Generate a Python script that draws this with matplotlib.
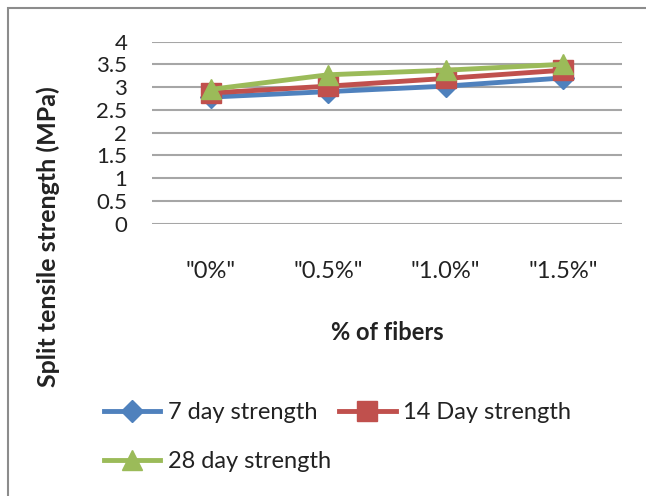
import numpy as np
import matplotlib.pyplot as plt
from matplotlib.patches import Rectangle

plt.rcParams['font.family'] = ['Lato', 'DejaVu Sans']

# data
fibers = ['"0%"', '"0.5%"', '"1.0%"', '"1.5%"']
day7 = [2.78, 2.90, 3.02, 3.20]
day14 = [2.87, 3.02, 3.19, 3.37]
day28 = [2.95, 3.27, 3.37, 3.50]

fig = plt.figure(figsize=(6.46, 4.96), dpi=100)
ax = fig.add_axes([0.2358, 0.549, 0.7266, 0.3673])

x = np.arange(len(fibers))
l7, = ax.plot(x, day7, color='#4F81BD', lw=3.5, marker='D', ms=11, label='7 day strength')
l14, = ax.plot(x, day14, color='#C0504D', lw=3.5, marker='s', ms=14, label='14 Day strength')
l28, = ax.plot(x, day28, color='#9BBB59', lw=3.5, marker='^', ms=15, label='28 day strength')

ax.set_xlim(-0.5, 3.5)
ax.set_ylim(0, 4)
ax.set_yticks(np.arange(0, 4.01, 0.5))
ax.set_yticklabels(['0', '0.5', '1', '1.5', '2', '2.5', '3', '3.5', '4'])
ax.set_xticks(x)
ax.set_xticklabels(fibers)
ax.grid(axis='y', color='#a6a6a6', lw=1.5)
ax.set_axisbelow(True)
for s in ax.spines.values():
    s.set_visible(False)
ax.tick_params(axis='y', length=0, pad=18, labelsize=16, labelcolor='#222222')
ax.tick_params(axis='x', length=0, pad=27, labelsize=17, labelcolor='#222222')

fig.text(387/646, 1 - 332/496, '% of fibers', ha='center', va='center',
         fontsize=17, fontweight='bold', color='#222222')
fig.text(48/646, 1 - 237/496, 'Split tensile strength (MPa)', rotation=90,
         ha='center', va='center', fontsize=18, fontweight='bold', color='#222222')

fig.legend(handles=[l7, l28, l14], ncol=2, loc='upper left',
           bbox_to_anchor=(92/646, 1 - 390/496), frameon=False, fontsize=17,
           handlelength=2.4, handletextpad=0.3, columnspacing=0.35,
           labelspacing=1.2, borderpad=0, labelcolor='#222222')

# outer chart border (only top and left show)
fig.add_artist(Rectangle((8/646, -0.1), 1.2, 1 - 8/496 + 0.1, transform=fig.transFigure,
                         fill=False, edgecolor='#8c8c8c', lw=1.5))

fig.savefig('out.png', dpi=100)
